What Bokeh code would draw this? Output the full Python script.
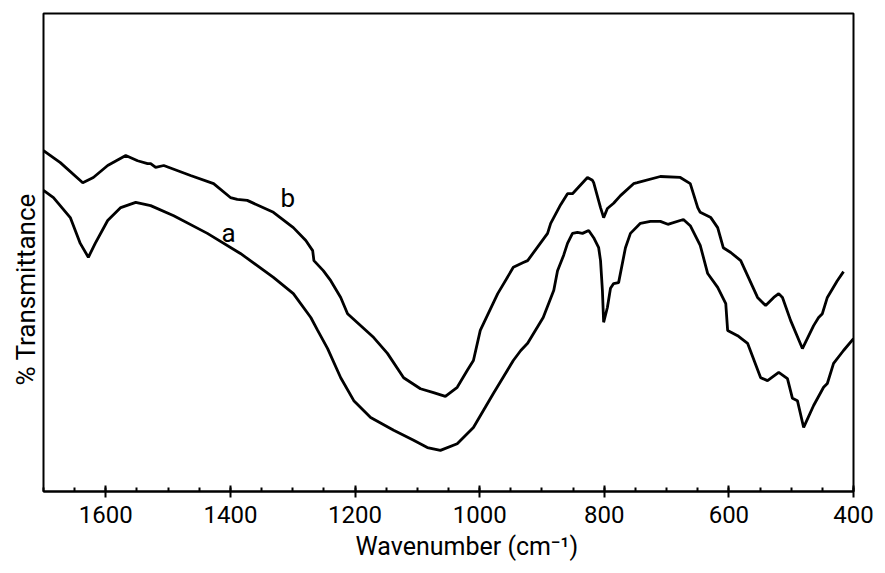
from bokeh.plotting import figure
from bokeh.models import Range1d, SingleIntervalTicker, Label, Title
from bokeh.embed import file_html
from bokeh.resources import INLINE

# IR spectra (wavenumber in cm-1, transmittance in arbitrary %)
wn_b = [1700, 1673, 1637, 1620, 1597, 1568, 1549, 1533, 1528, 1520, 1507, 1464,
        1427, 1400, 1389, 1373, 1331, 1320, 1299, 1279, 1268, 1266, 1251, 1239,
        1223, 1212, 1170, 1148, 1122, 1095, 1074, 1055, 1036, 1020, 1010, 999,
        971, 946, 930, 923, 891, 886, 870, 859, 851, 827, 819, 817, 806, 801,
        795, 785, 774, 753, 747, 710, 678, 662, 650, 646, 629, 618, 609, 597,
        581, 554, 541, 528, 520, 514, 501, 482, 464, 456, 450, 442, 426, 416]
t_b = [71.3, 68.8, 64.6, 65.7, 68.2, 70.3, 69.2, 68.6, 68.6, 67.8, 68.2, 66.1,
       64.4, 61.5, 61.1, 60.9, 58.4, 57.3, 55.2, 52.5, 50.4, 48.3, 46.2, 44.1,
       40.6, 37.2, 32.2, 28.9, 23.8, 21.5, 20.7, 19.9, 21.8, 25.3, 27.4, 33.7,
       41.4, 46.9, 47.9, 48.3, 54.0, 56.1, 60.0, 62.3, 62.3, 65.7, 65.1, 64.6,
       59.4, 57.3, 59.2, 60.3, 61.9, 64.4, 64.6, 65.9, 65.7, 64.4, 59.4, 58.4,
       57.3, 55.2, 51.0, 50.0, 48.3, 40.6, 38.9, 40.6, 41.4, 40.6, 35.8, 29.9,
       34.7, 36.4, 37.2, 40.6, 44.1, 46.0]

wn_a = [1700, 1684, 1657, 1641, 1628, 1617, 1597, 1576, 1552, 1528, 1491, 1437,
        1384, 1331, 1299, 1271, 1260, 1244, 1223, 1202, 1175, 1138, 1106, 1084,
        1063, 1036, 1010, 978, 946, 934, 923, 898, 881, 875, 865, 859, 851, 843,
        835, 825, 817, 809, 806, 803, 801, 795, 790, 785, 777, 766, 758, 742,
        726, 710, 698, 673, 662, 646, 634, 618, 605, 602, 586, 570, 549, 538,
        520, 506, 498, 490, 480, 464, 448, 442, 432, 416, 400]
t_a = [63.0, 61.5, 57.3, 51.9, 49.0, 51.9, 56.7, 59.4, 60.5, 59.8, 57.7, 54.0,
       49.8, 44.8, 41.4, 36.4, 33.7, 29.9, 23.8, 19.0, 15.5, 12.8, 10.7, 9.2,
       8.6, 10.0, 13.4, 20.5, 27.4, 29.5, 31.0, 36.4, 42.1, 46.2, 49.5, 51.9,
       54.0, 54.2, 54.0, 54.6, 53.1, 51.0, 48.3, 42.1, 35.4, 38.5, 42.5, 43.5,
       43.7, 51.0, 54.0, 56.1, 56.5, 56.5, 55.9, 56.9, 55.6, 51.5, 45.6, 42.7,
       39.3, 33.7, 32.6, 31.0, 23.8, 23.2, 24.9, 23.6, 19.5, 19.0, 13.4, 18.0,
       21.8, 22.6, 26.8, 29.5, 32.0]

FONT = "Roboto"

p = figure(width=877, height=573, output_backend="svg", toolbar_location=None,
           x_range=Range1d(1700, 400), y_range=Range1d(0, 100),
           min_border_left=43, min_border_right=24, min_border_top=13,
           min_border_bottom=82)
p.xgrid.visible = False
p.ygrid.visible = False
p.yaxis.visible = False
p.outline_line_color = "black"
p.outline_line_width = 2
p.outline_line_alpha = 1

ax = p.xaxis[0]
ax.ticker = SingleIntervalTicker(interval=200, num_minor_ticks=4)
ax.axis_line_width = 2
ax.major_tick_in = 6
ax.major_tick_out = 6
ax.major_tick_line_width = 2
ax.minor_tick_in = 4
ax.minor_tick_out = 0
ax.minor_tick_line_width = 2
ax.major_label_standoff = 8
ax.major_label_text_font = FONT
ax.major_label_text_font_size = "24px"
ax.major_label_text_color = "black"

p.line(wn_b, t_b, line_color="black", line_width=2.8)
p.line(wn_a, t_a, line_color="black", line_width=2.8)

for txt, x, y in [("b", 1308, 61.3), ("a", 1403, 54.0)]:
    p.add_layout(Label(x=x, y=y, text=txt, text_font=FONT, text_font_size="26px",
                       text_color="black", text_align="center",
                       text_baseline="middle"))

p.add_layout(Title(text="Wavenumber (cm\u207b\u00b9)", text_font=FONT,
                   text_font_size="25px", text_font_style="normal",
                   text_color="black", align="left", offset=312, standoff=9),
             "below")
p.add_layout(Title(text="% Transmittance", text_font=FONT,
                   text_font_size="26px", text_font_style="normal",
                   text_color="black", align="left", offset=106, standoff=5),
             "left")

open("out.html", "w").write(file_html(p, INLINE))
